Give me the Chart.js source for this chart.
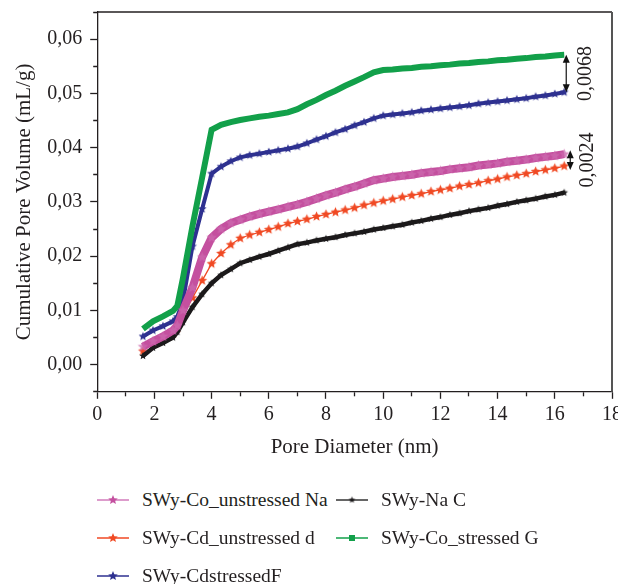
<!DOCTYPE html>
<html>
<head>
<meta charset="utf-8">
<script src="https://cdn.jsdelivr.net/npm/chart.js@4.4.1/dist/chart.umd.min.js"></script>
<style>
    body { margin: 0; background: #fff; overflow: hidden; }
    #wrap { position: relative; width: 618px; height: 584px; overflow: hidden; }
    #pore-chart { position: absolute; left: 0; top: 0; }
    #legend {
        position: absolute; left: 97px; top: 481px;
        display: grid; grid-template-columns: 239px auto;
        font-family: "Liberation Serif", serif; font-size: 19.5px; color: #231f20;
    }
    .legend-item { display: flex; align-items: center; height: 38px; white-space: nowrap; }
    .legend-item canvas { margin-right: 13px; }
</style>
</head>
<body>
<div id="wrap">
    <!-- a little wider than the page so the "18" label runs off the edge -->
    <canvas id="pore-chart" width="626" height="470"></canvas>
    <div id="legend"></div>
</div>
<script>
// pore diameter (nm), shared by all series
const poreDiameter = [1.6, 1.95, 2.3, 2.65, 2.8, 3.0, 3.33, 3.67, 4.0, 4.33, 4.67, 5.0, 5.33, 5.67,
    6.0, 6.33, 6.67, 7.0, 7.33, 7.67, 8.0, 8.33, 8.67, 9.0, 9.33, 9.67, 10.0, 10.33, 10.67, 11.0,
    11.33, 11.67, 12.0, 12.33, 12.67, 13.0, 13.33, 13.67, 14.0, 14.33, 14.67, 15.0, 15.33, 15.67,
    16.0, 16.33];

// cumulative pore volume (mL/g)
const coUnstressedNa = [0.0033, 0.0043, 0.0052, 0.0063, 0.0072, 0.0100, 0.0142, 0.0198, 0.0234, 0.0250,
    0.0261, 0.0267, 0.0273, 0.0278, 0.0282, 0.0286, 0.0291, 0.0295, 0.0300, 0.0306, 0.0312, 0.0317,
    0.0323, 0.0328, 0.0334, 0.0340, 0.0343, 0.0346, 0.0348, 0.0350, 0.0353, 0.0355, 0.0357, 0.0360,
    0.0362, 0.0364, 0.0367, 0.0369, 0.0371, 0.0374, 0.0376, 0.0378, 0.0381, 0.0383, 0.0385, 0.0388];
const naC = [0.0016, 0.0031, 0.0040, 0.0050, 0.0060, 0.0078, 0.0106, 0.0130, 0.0150, 0.0165,
    0.0176, 0.0187, 0.0193, 0.0199, 0.0204, 0.0210, 0.0216, 0.0222, 0.0225, 0.0229, 0.0232, 0.0235,
    0.0239, 0.0242, 0.0245, 0.0249, 0.0252, 0.0255, 0.0258, 0.0262, 0.0265, 0.0269, 0.0272, 0.0276,
    0.0279, 0.0283, 0.0286, 0.0289, 0.0293, 0.0296, 0.0300, 0.0303, 0.0306, 0.0310, 0.0313, 0.0317];
const cdUnstressedD = [0.0025, 0.0042, 0.0049, 0.0058, 0.0068, 0.0090, 0.0123, 0.0155, 0.0186, 0.0205,
    0.0221, 0.0233, 0.0239, 0.0244, 0.0249, 0.0254, 0.0260, 0.0264, 0.0268, 0.0273, 0.0277, 0.0281,
    0.0285, 0.0289, 0.0294, 0.0298, 0.0302, 0.0305, 0.0309, 0.0312, 0.0315, 0.0319, 0.0322, 0.0325,
    0.0329, 0.0332, 0.0335, 0.0339, 0.0342, 0.0346, 0.0349, 0.0352, 0.0356, 0.0359, 0.0362, 0.0366];
const coStressedG = [0.0066, 0.0080, 0.0089, 0.0099, 0.0108, 0.0160, 0.0255, 0.0345, 0.0433, 0.0442,
    0.0447, 0.0451, 0.0454, 0.0457, 0.0459, 0.0462, 0.0465, 0.0471, 0.0480, 0.0488, 0.0497, 0.0505,
    0.0514, 0.0522, 0.0530, 0.0539, 0.0543, 0.0544, 0.0546, 0.0547, 0.0549, 0.0550, 0.0552, 0.0553,
    0.0555, 0.0556, 0.0558, 0.0559, 0.0561, 0.0562, 0.0564, 0.0565, 0.0567, 0.0568, 0.0570, 0.0571];
const cdStressedF = [0.0052, 0.0063, 0.0071, 0.0080, 0.0088, 0.0118, 0.0218, 0.0287, 0.0352, 0.0365,
    0.0375, 0.0382, 0.0386, 0.0389, 0.0392, 0.0395, 0.0398, 0.0402, 0.0408, 0.0415, 0.0421, 0.0428,
    0.0434, 0.0441, 0.0447, 0.0454, 0.0459, 0.0461, 0.0463, 0.0465, 0.0468, 0.0470, 0.0472, 0.0474,
    0.0476, 0.0478, 0.0481, 0.0483, 0.0485, 0.0487, 0.0489, 0.0491, 0.0494, 0.0496, 0.0499, 0.0502];

const seriesNames = ['SWy-Co_unstressed Na', 'SWy-Na C', 'SWy-Cd_unstressed d', 'SWy-Co_stressed G', 'SWy-CdstressedF'];
const xTicks = [0, 2, 4, 6, 8, 10, 12, 14, 16, 18];
const yTicks = [0.00, 0.01, 0.02, 0.03, 0.04, 0.05, 0.06];

// gaps marked at the right end: [upper series, lower series, label]
const gapMarks = [
    [3, 4, '0,0068'],
    [0, 2, '0,0024']
];

const INK = '#231f20';
const SERIF = '"Liberation Serif", "Times New Roman", serif';

function starCanvas(color, r, alpha) {
    const size = Math.ceil(r * 2 + 2);
    const c = document.createElement('canvas');
    c.width = size;
    c.height = size;
    const ctx = c.getContext('2d');
    ctx.globalAlpha = alpha || 1;
    ctx.fillStyle = color;
    ctx.beginPath();
    for (let i = 0; i < 10; i++) {
        const rad = i % 2 === 0 ? r : r * 0.45;
        const a = -Math.PI / 2 + i * Math.PI / 5;
        const px = size / 2 + rad * Math.cos(a);
        const py = size / 2 + rad * Math.sin(a);
        if (i === 0) ctx.moveTo(px, py); else ctx.lineTo(px, py);
    }
    ctx.closePath();
    ctx.fill();
    return c;
}

const poreChart = {
    chart: null,

    styles: [
        { color: '#c4509f', width: 8, marker: starCanvas('#cc68ae', 5.5, 0.8), legendLine: '#d27bbb', legendMarker: 'star', ms: 5 },
        { color: '#1c1a1b', width: 4.5, marker: starCanvas('#1c1a1b', 4), legendLine: '#333', legendMarker: 'star', ms: 3.5 },
        { color: '#f04923', width: 1.3, marker: starCanvas('#f04923', 5.2), legendLine: '#f04923', legendMarker: 'star', ms: 5 },
        { color: '#12a04a', width: 6, marker: false, legendLine: '#12a04a', legendMarker: 'square', ms: 3 },
        { color: '#2e3190', width: 4, marker: starCanvas('#2e3190', 4.6), legendLine: '#2e3190', legendMarker: 'star', ms: 5 }
    ],

    init() {
        this.renderChart();
        this.renderLegend();
    },

    buildDatasets() {
        const values = [coUnstressedNa, naC, cdUnstressedD, coStressedG, cdStressedF];
        return values.map((series, i) => {
            const st = this.styles[i];
            return {
                label: seriesNames[i],
                data: poreDiameter.map((x, j) => ({ x: x, y: series[j] })),
                borderColor: st.color,
                backgroundColor: st.color,
                borderWidth: st.width,
                pointStyle: st.marker || 'circle',
                pointRadius: st.marker ? 4 : 0,
                tension: 0,
                fill: false
            };
        });
    },

    renderChart() {
        const ctx = document.getElementById('pore-chart');

        const framePlugin = {
            id: 'frame',
            afterDraw(chart) {
                const { ctx, chartArea: a, scales } = chart;
                ctx.save();
                ctx.strokeStyle = INK;
                ctx.lineWidth = 1.3;
                ctx.beginPath();
                ctx.moveTo(a.left, a.top);
                ctx.lineTo(a.right, a.top);
                ctx.stroke();
                ctx.strokeStyle = '#555';
                ctx.lineWidth = 2;
                ctx.beginPath();
                ctx.moveTo(a.right, a.top);
                ctx.lineTo(a.right, a.bottom);
                ctx.stroke();

                // gap arrows at the end of the curves
                const lastX = poreDiameter[poreDiameter.length - 1];
                const sets = chart.data.datasets;
                gapMarks.forEach((mark, k) => {
                    const up = sets[mark[0]].data[sets[mark[0]].data.length - 1].y;
                    const low = sets[mark[1]].data[sets[mark[1]].data.length - 1].y;
                    const x = scales.x.getPixelForValue(lastX) + (k === 0 ? 2 : 6);
                    const y1 = scales.y.getPixelForValue(up) - (k === 0 ? 0 : 4);
                    const y2 = scales.y.getPixelForValue(low) + (k === 0 ? 0 : 4);
                    ctx.strokeStyle = '#111';
                    ctx.fillStyle = '#111';
                    ctx.lineWidth = 1.2;
                    ctx.beginPath();
                    ctx.moveTo(x, y1 + 5);
                    ctx.lineTo(x, y2 - 5);
                    ctx.stroke();
                    ctx.beginPath();
                    ctx.moveTo(x, y1);
                    ctx.lineTo(x - 3.5, y1 + 8);
                    ctx.lineTo(x + 3.5, y1 + 8);
                    ctx.closePath();
                    ctx.fill();
                    ctx.beginPath();
                    ctx.moveTo(x, y2);
                    ctx.lineTo(x - 3.5, y2 - 8);
                    ctx.lineTo(x + 3.5, y2 - 8);
                    ctx.closePath();
                    ctx.fill();

                    ctx.save();
                    ctx.translate(x + (k === 0 ? 20 : 18), (y1 + y2) / 2);
                    ctx.rotate(-Math.PI / 2);
                    ctx.fillStyle = INK;
                    ctx.font = '20px ' + SERIF;
                    ctx.textAlign = 'center';
                    ctx.textBaseline = 'middle';
                    ctx.fillText(mark[2], 0, 0);
                    ctx.restore();
                });
                ctx.restore();
            }
        };

        const minorDashX = (c) => (xTicks.includes(Math.round(c.tick.value)) ? [] : [4, 10]);
        const minorDashY = (c) => {
            const v = Math.round(c.tick.value * 1000);
            return v % 10 === 0 ? [] : [0, 3, 4, 10];
        };

        this.chart = new Chart(ctx, {
            type: 'line',
            data: { datasets: this.buildDatasets() },
            options: {
                responsive: false,
                animation: false,
                layout: { padding: { left: 12, right: 0, top: 12, bottom: 10 } },
                scales: {
                    x: {
                        type: 'linear',
                        min: 0,
                        max: 18,
                        border: { display: true, color: INK, width: 1.3 },
                        grid: {
                            drawOnChartArea: false,
                            tickLength: 7,
                            tickColor: INK,
                            tickWidth: 1.3,
                            tickBorderDash: minorDashX
                        },
                        ticks: {
                            stepSize: 1,
                            padding: 4,
                            color: INK,
                            font: { family: SERIF, size: 20 },
                            maxRotation: 0,
                            autoSkip: false,
                            callback: (v) => (xTicks.includes(v) ? String(v) : '')
                        },
                        title: {
                            display: true,
                            text: 'Pore Diameter (nm)',
                            color: INK,
                            font: { family: SERIF, size: 21 },
                            padding: { top: 4, bottom: 0 }
                        }
                    },
                    y: {
                        min: -0.005,
                        max: 0.065,
                        afterFit: (scale) => { scale.paddingTop = 0; },
                        border: { display: true, color: INK, width: 1.3 },
                        grid: {
                            drawOnChartArea: false,
                            tickLength: 7,
                            tickColor: INK,
                            tickWidth: 1.3,
                            tickBorderDash: minorDashY
                        },
                        ticks: {
                            stepSize: 0.005,
                            padding: 8,
                            color: INK,
                            font: { family: SERIF, size: 20 },
                            autoSkip: false,
                            callback: (v) => {
                                const t = yTicks.find(y => Math.abs(y - v) < 1e-6);
                                return t === undefined ? '' : t.toFixed(2).replace('.', ',');
                            }
                        },
                        title: {
                            display: true,
                            text: 'Cumulative Pore Volume (mL/g)',
                            color: INK,
                            font: { family: SERIF, size: 21 },
                            padding: { top: 0, bottom: 2 }
                        }
                    }
                },
                plugins: {
                    legend: { display: false },
                    tooltip: { enabled: false }
                }
            },
            plugins: [framePlugin]
        });
    },

    renderLegend() {
        const box = document.getElementById('legend');
        box.innerHTML = '';
        this.chart.data.datasets.forEach((ds, i) => {
            const st = this.styles[i];
            const item = document.createElement('div');
            item.className = 'legend-item';

            const icon = document.createElement('canvas');
            icon.width = 32;
            icon.height = 14;
            const g = icon.getContext('2d');
            g.strokeStyle = st.legendLine;
            g.lineWidth = 1.5;
            g.beginPath();
            g.moveTo(0, 7);
            g.lineTo(32, 7);
            g.stroke();
            if (st.legendMarker === 'star') {
                g.drawImage(starCanvas(st.color, st.ms), 16 - (st.ms + 1), 7 - (st.ms + 1));
            } else {
                g.fillStyle = st.color;
                g.fillRect(16 - st.ms, 7 - st.ms, st.ms * 2, st.ms * 2);
            }

            const label = document.createElement('span');
            label.textContent = ds.label;
            item.appendChild(icon);
            item.appendChild(label);
            box.appendChild(item);
        });
    }
};

poreChart.init();
</script>
</body>
</html>
